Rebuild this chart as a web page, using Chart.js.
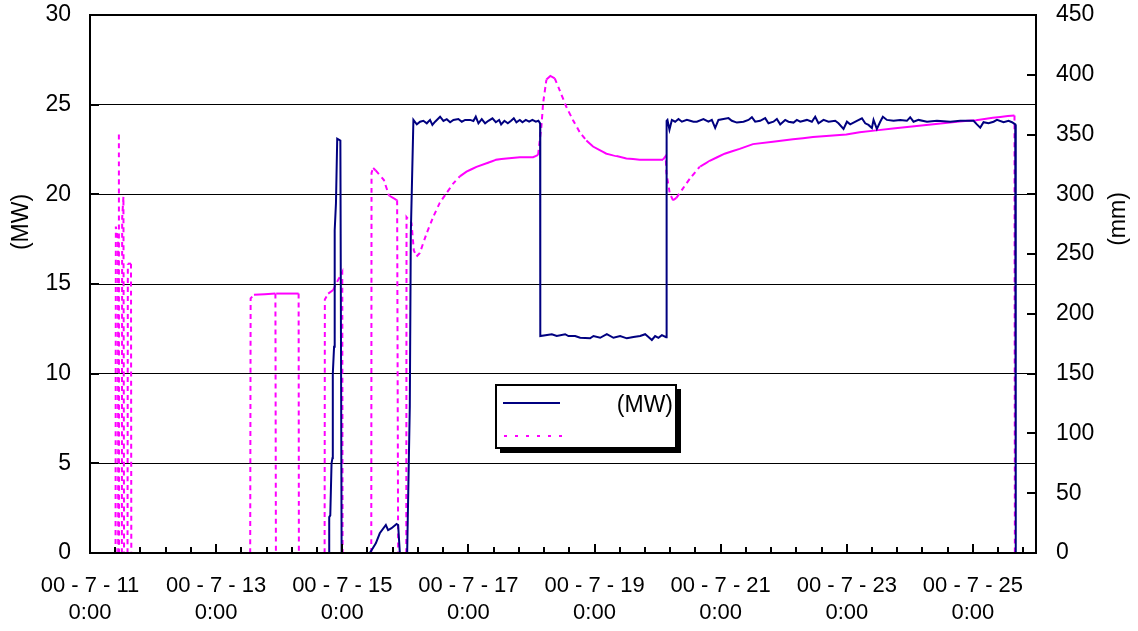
<!DOCTYPE html>
<html>
<head>
<meta charset="utf-8">
<script src="https://cdn.jsdelivr.net/npm/chart.js@4.4.1/dist/chart.umd.min.js"></script>
<style>
html,body{margin:0;padding:0;background:#fff;}
#wrap{width:1138px;height:631px;}
</style>
</head>
<body>
<div id="wrap"><canvas id="c" width="1138" height="631"></canvas></div>
<script>
// x values: days after 00-7-11 0:00
const xTickValues = [0, 2, 4, 6, 8, 10, 12, 14];
const xTickLabels = [
  ['00 - 7 - 11', '0:00'], ['00 - 7 - 13', '0:00'], ['00 - 7 - 15', '0:00'], ['00 - 7 - 17', '0:00'],
  ['00 - 7 - 19', '0:00'], ['00 - 7 - 21', '0:00'], ['00 - 7 - 23', '0:00'], ['00 - 7 - 25', '0:00']
];
const leftTicks = [0, 5, 10, 15, 20, 25, 30];
const rightTicks = [0, 50, 100, 150, 200, 250, 300, 350, 400, 450];
const leftTitle = '(MW)';
const rightTitle = '(mm)';
const seriesLabels = ['(MW)', ''];

// Series 1: power (MW, left axis)
const powerT = [
  3.792, 3.793, 3.81, 3.83, 3.845, 3.85, 3.87, 3.88, 3.90, 3.92, 3.97, 3.99, 4.2,
  4.437, 4.532, 4.595, 4.691, 4.727, 4.781, 4.861, 4.886, 4.913, 4.97,
  5.029, 5.071, 5.087, 5.128, 5.182, 5.234, 5.286, 5.340, 5.392, 5.429, 5.472, 5.551, 5.604,
  5.657, 5.710, 5.762, 5.841, 5.895, 5.948, 6.027, 6.079, 6.117, 6.159, 6.212, 6.265, 6.317,
  6.381, 6.435, 6.487, 6.519, 6.571, 6.625, 6.677, 6.720, 6.761, 6.815, 6.857, 6.910, 6.963,
  7.015, 7.069, 7.110, 7.137, 7.140,
  7.323, 7.401, 7.534, 7.586, 7.692, 7.772, 7.930, 7.983, 8.089, 8.195, 8.300, 8.406, 8.512,
  8.617, 8.723, 8.803, 8.855, 8.909, 8.961, 9.013, 9.068, 9.135, 9.143,
  9.156, 9.188, 9.226, 9.278, 9.331, 9.385, 9.464, 9.516, 9.569, 9.622, 9.727, 9.806, 9.860,
  9.913, 9.965, 10.045, 10.124, 10.177, 10.257, 10.362, 10.441, 10.495, 10.547, 10.626, 10.706,
  10.758, 10.837, 10.891, 10.944, 11.023, 11.075, 11.155, 11.208, 11.261, 11.367, 11.446, 11.499,
  11.551, 11.631, 11.710, 11.816, 11.868, 11.948, 12.002, 12.054, 12.160, 12.240, 12.292, 12.344,
  12.398, 12.424, 12.477, 12.530, 12.572, 12.636, 12.741, 12.847, 12.953, 13.005, 13.058, 13.137,
  13.271, 13.429, 13.640, 13.799, 14.010, 14.063, 14.116, 14.168, 14.247, 14.327, 14.381, 14.486,
  14.565, 14.619, 14.671, 14.679
];
const powerMW = [
  0, 2.0, 2.1, 5.0, 5.3, 10.0, 11.5, 18.0, 19.5, 23.1, 23.0, 0, null,
  0, 0.54, 1.10, 1.56, 1.28, 1.38, 1.62, 1.56, 0, null,
  0, 8.2, 17.8, 24.15, 23.9, 24.05, 24.1, 23.96, 24.15, 23.87, 24.05, 24.33, 24.09,
  24.19, 24.02, 24.15, 24.2, 24.05, 24.15, 24.15, 24.09, 24.33, 23.96, 24.2, 23.96, 24.1,
  24.24, 24.02, 24.15, 23.9, 24.1, 23.96, 24.1, 24.24, 24.02, 24.15, 24.02, 24.15, 24.05,
  24.15, 24.05, 24.1, 23.96, 12.1,
  12.2, 12.1, 12.2, 12.1, 12.1, 12.0, 11.97, 12.1, 12.0, 12.2, 12.0, 12.1, 11.97,
  12.05, 12.1, 12.2, 12.05, 11.88, 12.1, 12.0, 12.15, 12.03, 24.1,
  24.15, 23.6, 24.15, 24.05, 24.2, 24.05, 24.15, 24.1, 24.05, 24.05, 24.2, 24.05, 24.15,
  23.7, 24.15, 24.2, 24.25, 24.1, 24.0, 24.05, 24.15, 24.3, 24.05, 24.1, 24.25,
  23.96, 24.05, 24.2, 23.9, 24.15, 24.05, 24.0, 24.15, 24.05, 24.15, 24.05, 24.33,
  23.96, 24.15, 24.05, 24.1, 23.96, 23.65, 24.05, 23.9, 24.1, 24.24, 23.96, 23.87,
  23.7, 24.15, 23.65, 24.05, 24.33, 24.15, 24.1, 24.15, 24.1, 24.3, 24.05, 24.15,
  24.05, 24.1, 24.05, 24.1, 24.1, 23.9, 23.72, 24.02, 23.96, 24.05, 24.15, 24.02,
  24.1, 24.02, 23.9, 0
];

// Series 2: level (mm, right axis)
const levelT = [
  0.405, 0.410, 0.445, 0.447, 0.452,
  0.458, 0.460, 0.48,
  0.505, 0.510, 0.530, 0.540, 0.57,
  0.595, 0.600, 0.650, 0.655, 1.5,
  2.540, 2.547, 2.600, 2.940, 2.948, 2.950, 2.952, 3.308, 3.312, 3.5,
  3.720, 3.724, 3.777, 3.856, 3.910, 3.962, 4.000, 4.005, 4.2,
  4.460, 4.464, 4.490, 4.530, 4.660, 4.740, 4.870, 4.886, 4.95,
  5.015, 5.019, 5.098, 5.135, 5.177, 5.230, 5.335, 5.441, 5.547, 5.653, 5.758, 5.864, 5.970,
  6.128, 6.287, 6.445, 6.604, 6.815, 7.026, 7.105, 7.158, 7.184, 7.237, 7.300, 7.369, 7.448,
  7.554, 7.659, 7.765, 7.871, 7.976, 8.082, 8.188, 8.347, 8.505, 8.716, 9.086, 9.128, 9.140,
  9.192, 9.245, 9.298, 9.403, 9.509, 9.667, 9.826, 10.063, 10.301, 10.512, 11.146, 11.463,
  11.992, 12.203, 12.731, 13.260, 13.788, 14.052, 14.315, 14.553, 14.659, 14.665
];
const levelMM = [
  0, 273, 262, 0, null,
  350, 0, null,
  0, 280, 298, 0, null,
  0, 242, 242, 0, null,
  0, 213, 216, 217, 0, null, 217, 217, 0, null,
  0, 212, 217, 220, 226, 231, 235, 0, null,
  0, 318, 322, 320, 312, 299, 295, 0, null,
  0, 281, 276, 253, 248, 251, 267, 281, 293, 301, 309, 315, 319,
  323, 326, 329, 330, 331, 331, 333, 357, 376, 396, 399, 397, 387,
  373, 362, 352, 345, 340, 337, 334, 332, 330, 329, 329, 332, 318,
  301, 295, 297, 305, 313, 323, 328, 334, 338, 342, 346, 348,
  350, 352, 355, 358, 361, 362, 364, 365.5, 366, 0
];

const FONT = "'Liberation Sans', Arial, sans-serif";

function pts(ts, vs) { return ts.map((t, i) => ({x: t, y: vs[i]})); }

const steepDash = ctx => {
  const dx = Math.abs(ctx.p1.x - ctx.p0.x), dy = Math.abs(ctx.p1.y - ctx.p0.y);
  return (dy > 3 && dy > dx) ? [5, 4] : undefined;
};

const framePlugin = {
  id: 'frame',
  afterDatasetsDraw(chart) {
    const {ctx, chartArea: a, scales} = chart;
    ctx.save();
    ctx.strokeStyle = '#000';
    ctx.lineWidth = 2;
    const xs = scales.x;
    for (let k = 0; k <= 37; k++) {
      const v = k * 0.4;
      const px = Math.round(xs.getPixelForValue(v));
      const major = Math.abs(v / 2 - Math.round(v / 2)) < 1e-6;
      const len = major ? 9 : 6;
      ctx.beginPath(); ctx.moveTo(px, a.bottom); ctx.lineTo(px, a.bottom - len); ctx.stroke();
    }
    leftTicks.forEach(v => {
      const py = Math.round(scales.y.getPixelForValue(v));
      ctx.beginPath(); ctx.moveTo(a.left, py); ctx.lineTo(a.left + 9, py); ctx.stroke();
    });
    rightTicks.forEach(v => {
      const py = Math.round(scales.y1.getPixelForValue(v));
      ctx.beginPath(); ctx.moveTo(a.right, py); ctx.lineTo(a.right - 9, py); ctx.stroke();
    });
    ctx.lineWidth = 2;
    ctx.strokeRect(a.left, a.top, a.right - a.left, a.bottom - a.top);

    ctx.fillStyle = '#000';
    ctx.font = "23px " + FONT;
    ctx.textAlign = 'center';
    ctx.textBaseline = 'middle';
    ctx.save(); ctx.translate(21.5, 222); ctx.rotate(-Math.PI / 2); ctx.fillText(leftTitle, 0, 0); ctx.restore();
    ctx.save(); ctx.translate(1119, 219); ctx.rotate(-Math.PI / 2); ctx.fillText(rightTitle, 0, 0); ctx.restore();

    const L = 496, T = 385, W = 180, H = 63;
    ctx.fillStyle = '#000';
    ctx.fillRect(L + 4, T + 4, W + 1, H + 1);
    ctx.fillStyle = '#fff';
    ctx.fillRect(L, T, W, H);
    ctx.strokeStyle = '#000'; ctx.lineWidth = 2;
    ctx.strokeRect(L, T, W, H);
    const ds = chart.data.datasets;
    ctx.lineWidth = 2;
    ctx.strokeStyle = ds[0].borderColor;
    ctx.beginPath(); ctx.moveTo(503, 403); ctx.lineTo(560, 403); ctx.stroke();
    ctx.strokeStyle = ds[1].borderColor;
    ctx.setLineDash([3, 8]);
    ctx.beginPath(); ctx.moveTo(504, 436); ctx.lineTo(562, 436); ctx.stroke();
    ctx.setLineDash([]);
    ctx.fillStyle = '#000';
    ctx.textAlign = 'right';
    ctx.fillText(ds[0].label, 673, 406);
    ctx.fillText(ds[1].label, 673, 437);
    ctx.restore();
  }
};

new Chart(document.getElementById('c'), {
  type: 'line',
  data: {
    datasets: [
      {
        label: seriesLabels[0],
        data: pts(powerT, powerMW),
        yAxisID: 'y',
        borderColor: '#000080',
        borderWidth: 2,
        pointRadius: 0,
        spanGaps: false,
        tension: 0
      },
      {
        label: seriesLabels[1],
        data: pts(levelT, levelMM),
        yAxisID: 'y1',
        borderColor: '#FF00FF',
        borderWidth: 2,
        pointRadius: 0,
        spanGaps: false,
        tension: 0.000001,
        segment: { borderDash: steepDash }
      }
    ]
  },
  options: {
    responsive: false,
    animation: false,
    events: [],
    layout: { padding: { top: 15, left: 0, right: 0, bottom: 0 } },
    plugins: { legend: { display: false }, tooltip: { enabled: false } },
    scales: {
      x: {
        type: 'linear',
        min: 0, max: 15,
        afterBuildTicks: s => { s.ticks = xTickValues.map(v => ({value: v})); },
        afterFit: s => { s.height = 78; s.paddingLeft = 0; s.paddingRight = 0; },
        grid: { display: false, drawTicks: false },
        border: { display: false },
        ticks: {
          autoSkip: false,
          maxRotation: 0,
          padding: 20,
          color: '#000',
          font: { family: FONT, size: 22, lineHeight: 1.22 },
          callback: v => xTickLabels[xTickValues.indexOf(v)]
        }
      },
      y: {
        position: 'left',
        min: 0, max: 30,
        afterBuildTicks: s => { s.ticks = leftTicks.map(v => ({value: v})); },
        afterFit: s => { s.width = 90; s.paddingTop = 0; s.paddingBottom = 0; },
        grid: { color: '#000', lineWidth: 1, drawTicks: false },
        border: { display: false },
        ticks: { padding: 19, color: '#000', font: { family: FONT, size: 23 } }
      },
      y1: {
        position: 'right',
        min: 0, max: 450,
        afterBuildTicks: s => { s.ticks = rightTicks.map(v => ({value: v})); },
        afterFit: s => { s.width = 102; s.paddingTop = 0; s.paddingBottom = 0; },
        grid: { display: false, drawTicks: false },
        border: { display: false },
        ticks: { padding: 20, color: '#000', font: { family: FONT, size: 23 } }
      }
    }
  },
  plugins: [framePlugin]
});
</script>
</body>
</html>
